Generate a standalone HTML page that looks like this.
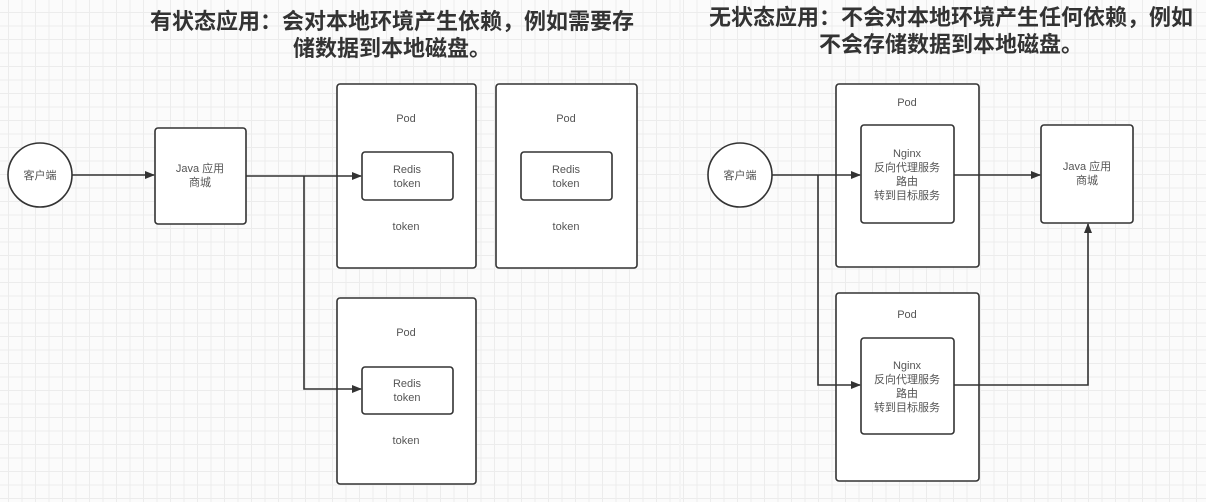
<!DOCTYPE html>
<html><head><meta charset="utf-8"><style>
html,body{margin:0;padding:0;}
body{width:1206px;height:502px;position:relative;overflow:hidden;background-color:#fbfbfb;
background-image:linear-gradient(#ececec 1px,transparent 1px),linear-gradient(90deg,#ececec 1px,transparent 1px);
background-size:13.5px 13.5px;background-position:8px 12px;font-family:"Liberation Sans","Noto Sans CJK SC",sans-serif;}
.t{position:absolute;font-weight:bold;font-size:22px;color:#333;text-align:center;line-height:27px;white-space:nowrap;}
.sep{position:absolute;left:679px;top:0;width:2px;height:502px;background:#f4f4f4;}
</style></head><body>
<div class="sep"></div>
<div class="t" style="left:142px;width:500px;top:8px;">有状态应用：会对本地环境产生依赖，例如需要存<br>储数据到本地磁盘。</div>
<div class="t" style="left:701px;width:500px;top:4px;">无状态应用：不会对本地环境产生任何依赖，例如<br>不会存储数据到本地磁盘。</div>
<svg width="1206" height="502" style="position:absolute;left:0;top:0" font-family="Liberation Sans, Noto Sans CJK SC, sans-serif" font-size="11" fill="#555">
<defs><marker id="a" markerWidth="10" markerHeight="8" refX="9" refY="4" orient="auto" markerUnits="userSpaceOnUse"><path d="M0,0 L10,4 L0,8 Z" fill="#333"/></marker></defs>
<g stroke="#333" stroke-width="1.6" fill="#fff">
<circle cx="40" cy="175" r="32"/>
<rect x="155" y="128" width="91" height="96" rx="3"/>
<rect x="337" y="84" width="139" height="184" rx="3"/>
<rect x="496" y="84" width="141" height="184" rx="3"/>
<rect x="337" y="298" width="139" height="186" rx="3"/>
<rect x="362" y="152" width="91" height="48" rx="3"/>
<rect x="521" y="152" width="91" height="48" rx="3"/>
<rect x="362" y="367" width="91" height="47" rx="3"/>
<circle cx="740" cy="175" r="32"/>
<rect x="836" y="84" width="143" height="183" rx="3"/>
<rect x="836" y="293" width="143" height="188" rx="3"/>
<rect x="861" y="125" width="93" height="98" rx="3"/>
<rect x="861" y="338" width="93" height="96" rx="3"/>
<rect x="1041" y="125" width="92" height="98" rx="3"/>
</g>
<g stroke="#333" stroke-width="1.6" fill="none">
<line x1="72" y1="175" x2="154" y2="175" marker-end="url(#a)"/>
<line x1="246" y1="176" x2="361" y2="176" marker-end="url(#a)"/>
<polyline points="304,176 304,389 361,389" marker-end="url(#a)"/>
<line x1="772" y1="175" x2="860" y2="175" marker-end="url(#a)"/>
<polyline points="818,175 818,385 860,385" marker-end="url(#a)"/>
<line x1="954" y1="175" x2="1040" y2="175" marker-end="url(#a)"/>
<polyline points="954,385 1088,385 1088,224" marker-end="url(#a)"/>
</g>
<g text-anchor="middle">
<text x="40" y="179">客户端</text>
<text x="200" y="172">Java 应用</text><text x="200" y="186">商城</text>
<text x="406" y="122">Pod</text><text x="407" y="173">Redis</text><text x="407" y="187">token</text><text x="406" y="230">token</text>
<text x="566" y="122">Pod</text><text x="566" y="173">Redis</text><text x="566" y="187">token</text><text x="566" y="230">token</text>
<text x="406" y="336">Pod</text><text x="407" y="387">Redis</text><text x="407" y="401">token</text><text x="406" y="444">token</text>
<text x="740" y="179">客户端</text>
<text x="907" y="106">Pod</text>
<text x="907" y="157">Nginx</text><text x="907" y="171">反向代理服务</text><text x="907" y="185">路由</text><text x="907" y="199">转到目标服务</text>
<text x="907" y="318">Pod</text>
<text x="907" y="369">Nginx</text><text x="907" y="383">反向代理服务</text><text x="907" y="397">路由</text><text x="907" y="411">转到目标服务</text>
<text x="1087" y="170">Java 应用</text><text x="1087" y="184">商城</text>
</g>
</svg>
</body></html>
